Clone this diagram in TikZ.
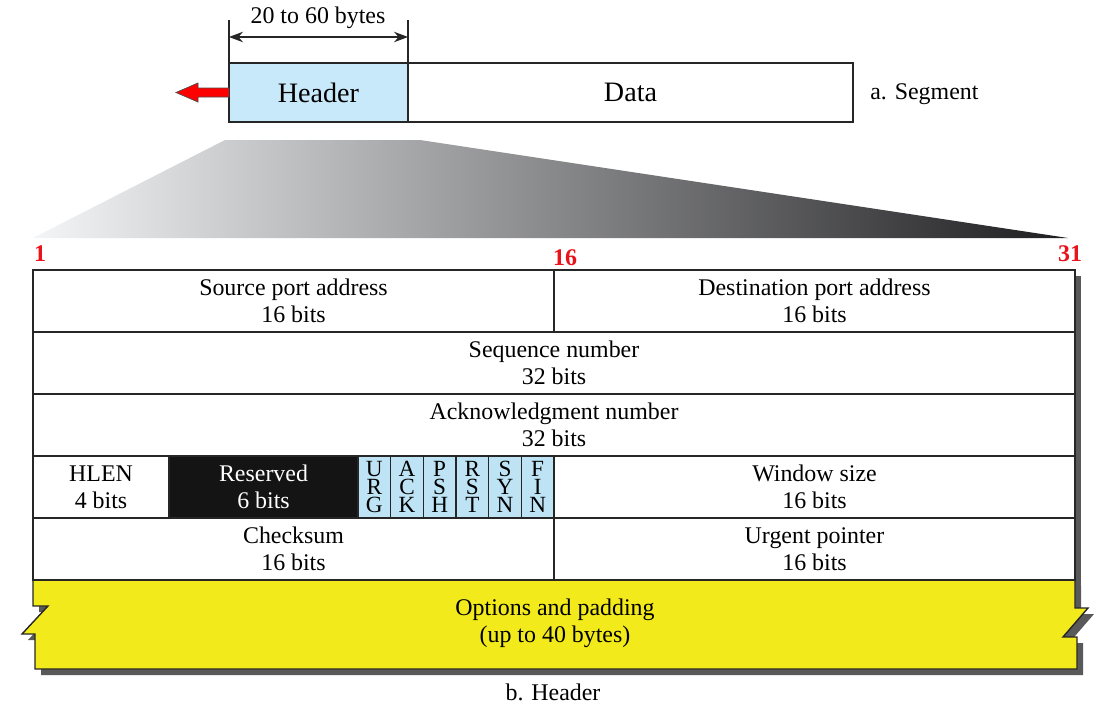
\documentclass[tikz,border=0pt]{standalone}
\usepackage{fontspec}
\setmainfont{Liberation Serif}
\usetikzlibrary{calc,positioning,arrows.meta}
\definecolor{hdrBlue}{HTML}{C8E9FA}
\definecolor{flagBlue}{HTML}{BDE3F5}
\definecolor{optYellow}{HTML}{F2EA1A}
\definecolor{bitRed}{HTML}{E8131B}
\definecolor{wedgeLight}{HTML}{F4F5F6}
\definecolor{wedgeDark}{HTML}{1E1E20}
\newcommand\fieldfont{\fontsize{17}{19.5}\selectfont}
\newcommand\flagfont{\fontsize{16.5}{12.6}\selectfont}
\newcommand\bitfont{\fontsize{17}{20}\selectfont\bfseries}
\newcommand\segfont{\fontsize{20}{24}\selectfont}
\tikzset{
myField/.style={
	rectangle, draw=black!85, line width=1pt, fill=white,
	minimum height=15.5mm, inner sep=0pt, outer sep=0pt,
	align=center, font=\fieldfont
}
, myHalf/.style={myField, minimum width=130.25mm}
, myFull/.style={myField, minimum width=260.5mm}
, myReserved/.style={myField, fill=black!92, text=white, minimum width=47.25mm}
, myFlag/.style={myField, fill=flagBlue, minimum width=8.1667mm, font=\flagfont}
, mySegment/.style={myField, minimum height=14.75mm, font=\segfont}
, myLabel/.style={inner sep=0pt, font=\fieldfont}
, myBit/.style={inner sep=0pt, text=bitRed, font=\bitfont}
% lines
, myTick/.style={black!85, line width=0.8pt}
, myDim/.style={{Stealth[length=3.5mm]}-{Stealth[length=3.5mm]}, black!85, line width=0.8pt}
, myBack/.style={fill=red, draw=black!70, line width=0.5pt}
, myShadow/.style={fill=black!65}
, myOpt/.style={fill=optYellow, draw=black!85, line width=1pt}
}

\begin{document}
\begin{tikzpicture}[x=0.25mm, y=-0.25mm]
	\useasboundingbox (0,0) rectangle (1104,724);
	% segment
	\node[mySegment, fill=hdrBlue, minimum width=44.75mm, anchor=north west] (hdr) at (229,63) {Header};
	\node[mySegment, minimum width=111.25mm, right=0pt of hdr] (data) {Data};
	\node[myLabel, right=4.25mm of data, yshift=-0.5mm] (seg) {a. Segment};
	\draw[myTick] (hdr.north west) -- ++(0,-43);
	\draw[myTick] (hdr.north east) -- ++(0,-43);
	\draw[myDim] ($(hdr.north west)+(0,-26)$) -- ($(hdr.north east)+(0,-26)$);
	\node[myLabel] (len) at (318,18) {20 to 60 bytes};
	\draw[myBack] (hdr.west) ++(0,-4.5) -- ++(-31,0) -- ++(0,-5) -- ++(-22,9.5)
		-- ++(22,9.5) -- ++(0,-5) -- ++(31,0) -- cycle;

	% zoom wedge
	\shade[left color=wedgeLight, right color=wedgeDark] (225,140) -- (420,140) -- (1068,238) -- (33,238) -- cycle;
	\node[myBit] (b1) at (40,254) {1};
	\node[myBit] (b16) at (565,258) {16};
	\node[myBit] (b31) at (1070,254) {31};

	% shadows
	\fill[myShadow] (39,276) rectangle (1081,586);
	\fill[myShadow, shift={(6,6)}] (33,580) -- (1075,580) -- (1075,608) -- (1088,608) -- (1063,637)
		-- (1077,637) -- (1077,669) -- (35,669) -- (35,634) -- (22,634) -- (48,606) -- (33,606) -- cycle;
	% options
	\draw[myOpt] (33,580) -- (1075,580) -- (1075,608) -- (1088,608) -- (1063,637)
		-- (1077,637) -- (1077,669) -- (35,669) -- (35,634) -- (22,634) -- (48,606) -- (33,606) -- cycle;
	\node[myLabel, align=center] (opt) at (555,623) {Options and padding\\(up to 40 bytes)};

	% header fields
	\node[myHalf, anchor=north west] (src) at (33,270) {Source port address\\16 bits};
	\node[myHalf, right=0pt of src] (dst) {Destination port address\\16 bits};
	\node[myFull, anchor=north west] (seq) at (src.south west) {Sequence number\\32 bits};
	\node[myFull, anchor=north west] (ack) at (seq.south west) {Acknowledgment number\\32 bits};
	\node[myField, minimum width=34mm, anchor=north west] (hlen) at (ack.south west) {HLEN\\4 bits};
	\node[myReserved, right=0pt of hlen] (rsv) {Reserved\\6 bits};
	\node[myFlag, right=0pt of rsv] (urg) {U\\R\\G};
	\node[myFlag, right=0pt of urg] (ackf) {A\\C\\K};
	\node[myFlag, right=0pt of ackf] (psh) {P\\S\\H};
	\node[myFlag, right=0pt of psh] (rst) {R\\S\\T};
	\node[myFlag, right=0pt of rst] (syn) {S\\Y\\N};
	\node[myFlag, right=0pt of syn] (fin) {F\\I\\N};
	\node[myHalf, right=0pt of fin] (win) {Window size\\16 bits};
	\node[myHalf, anchor=north west] (chk) at (hlen.south west) {Checksum\\16 bits};
	\node[myHalf, right=0pt of chk] (urgp) {Urgent pointer\\16 bits};

	\node[myLabel] (cap) at (553,692) {b. Header};
\end{tikzpicture}
\end{document}
